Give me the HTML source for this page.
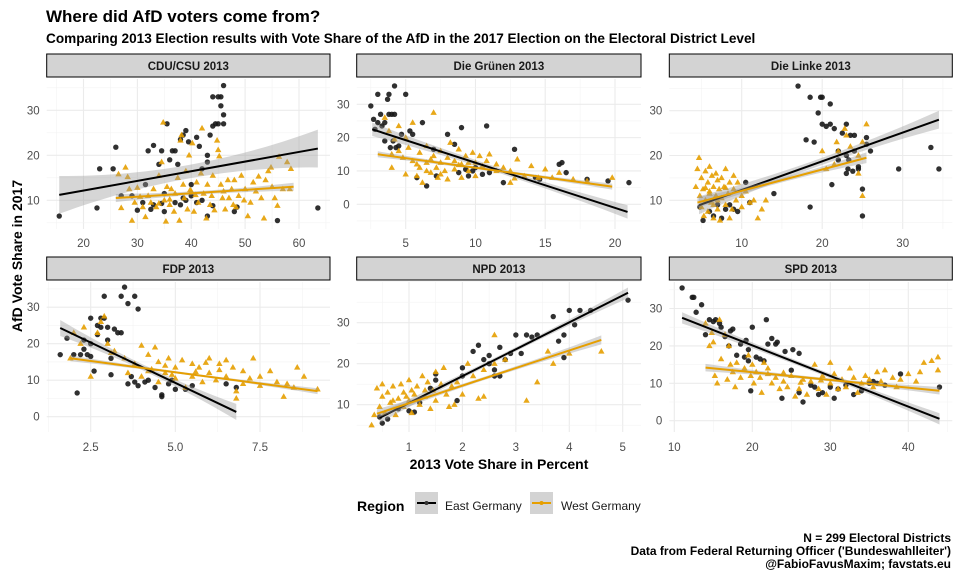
<!DOCTYPE html>
<html><head><meta charset="utf-8">
<style>
html,body{margin:0;padding:0;background:#fff;}
svg{display:block;font-family:"Liberation Sans",Arial,sans-serif;}
</style></head>
<body>
<svg id="chart" width="960" height="576" viewBox="0 0 960 576" xmlns="http://www.w3.org/2000/svg">
<rect width="960" height="576" fill="#fff"/>
<text x="46" y="22" font-size="17" font-weight="bold" fill="#000">Where did AfD voters come from?</text>
<text x="46" y="43" font-size="13.6" font-weight="bold" fill="#000">Comparing 2013 Election results with Vote Share of the AfD in the 2017 Election on the Electoral District Level</text>
<text transform="translate(22,256) rotate(-90)" text-anchor="middle" font-size="14" font-weight="bold" fill="#000">AfD Vote Share in 2017</text>
<text x="499" y="469" text-anchor="middle" font-size="14" font-weight="bold" fill="#000">2013 Vote Share in Percent</text>
<g>
<text x="357" y="511" font-size="14" font-weight="bold">Region</text>
<g>
<rect x="415" y="492" width="23" height="22" fill="#d3d3d3"/>
<line x1="417" y1="503" x2="436" y2="503" stroke="#000" stroke-width="2"/>
<circle cx="426.5" cy="503" r="2" fill="#333"/>
<text x="445" y="510" font-size="12" fill="#1a1a1a">East Germany</text>
</g>
<g>
<rect x="530" y="492" width="23" height="22" fill="#d3d3d3"/>
<line x1="532" y1="503" x2="551" y2="503" stroke="#E69F00" stroke-width="2"/>
<circle cx="541.5" cy="503" r="2" fill="#E69F00"/>
<text x="561" y="510" font-size="12" fill="#1a1a1a">West Germany</text>
</g>
</g>
<g font-size="12" font-weight="bold" text-anchor="end">
<text x="951" y="542">N = 299 Electoral Districts</text>
<text x="951" y="555">Data from Federal Returning Officer ('Bundeswahlleiter')</text>
<text x="951" y="568">@FabioFavusMaxim; favstats.eu</text>
</g>
<g id="panels"></g>
</svg>
<script>
// ---------- data ----------
const panelNames = ['CDU/CSU 2013','Die Grünen 2013','Die Linke 2013','FDP 2013','NPD 2013','SPD 2013'];
const xTicks = [[20,30,40,50,60],[5,10,15,20],[10,20,30],[2.5,5.0,7.5],[1,2,3,4,5],[10,20,30,40]];
const xTickLabels = [['20','30','40','50','60'],['5','10','15','20'],['10','20','30'],['2.5','5.0','7.5'],['1','2','3','4','5'],['10','20','30','40']];
const yTicks = [[10,20,30],[0,10,20,30],[10,20,30],[0,10,20,30],[10,20,30],[0,10,20,30]];
const eastPoints = [
"15.5,6.5 22.5,8.3 23,17 25.5,17 26,21.8 32,21 33,22.2 34,18 34.5,21 35.5,27 36,19 36.5,21 37,21 37.5,18 38,23.5 38.5,24.5 39,25.5 39.5,23 40,13.5 41,24 41.5,22 42,17 43,20 43,18.5 43.5,24.5 44,33 44,26.5 44.5,27 45,33 45,27 45.5,31 45.5,33 46,29 46,35.5 46,27 33,9 35,7.5 37,9.5 38,9 39,10 40,11 41,9.5 43,6.5 44,8.8 48,7.5 48.5,8.5 56,5.5 63.5,8.3 30,7.8 31,9.5 32.5,8 38.5,10.5 27,11 34.5,9.3 42,10 29,11 31.5,13.5 35,11.5",
"2.5,29.5 2.7,25.5 2.8,22.5 3,33 3,24.5 3.2,27 3.3,23.5 3.5,24.5 3.5,19 3.7,31.5 3.8,27 3.8,33 3.9,17 4,27 4.1,19 4.2,35.5 4.2,27 4.3,17 4.5,17.5 4.7,21 5,33 5.3,22 5.5,21 5.8,8 6.2,24.5 6.5,5.5 7,16.5 7.2,8.5 8,21 8.5,18 9,23 9.5,8.5 9.8,10 10,11 10.5,9 10.8,23.5 11,9.5 12,6.5 12.8,16.5 14.3,8 14.6,7.5 16,12 16.2,12.5 16.5,9.5 18,7.5 19.5,7 21,6.5 8.8,9.5 9.3,10.5",
"4.8,8.5 5.2,5.5 6,7.5 6.5,6.5 7,9 7.5,6 8,8 8.5,9 9,8 9.5,7.5 10.5,14 11,9.5 14,11.5 17,35.5 18,23.5 18.5,8.5 18.5,33 19,23 19.5,29.5 19.8,33 20,33 20,27 20.5,26.5 21,31.5 21,27 21.2,13.5 21.5,26 22,21 22,19 22.5,25 23,27 23,16 23,20 23.2,17 23.3,19 23.5,24.5 24,24.5 24,21 24.5,17 24.5,17.5 25,12.5 25,6.5 25.5,24 25.5,22.5 26,21 29.5,17 33.5,21.8 34.5,17 23.8,16.5",
"1.6,17 1.8,21.5 2,17 2.1,6.5 2.2,17 2.3,21 2.3,18.5 2.4,17 2.5,27 2.5,20 2.5,16.5 2.6,12.5 2.7,25 2.7,22.5 2.8,27 2.8,24.5 2.9,33 2.9,27 3,21 3,24.5 3.1,11.5 3.1,16 3.2,24 3.3,23 3.4,33 3.4,23 3.5,35.5 3.6,31 3.6,9 3.7,11 3.8,9.5 3.8,33 3.9,29.5 3.9,8.5 4.2,10 4.4,8 4.6,6 4.6,5.5 4.8,9 5,7.5 5.3,7.5 5.5,8.5 6.5,9 6.8,8 4.1,9.5 4.9,10",
"0.45,7 0.5,5.5 0.8,9 1,8.5 1.2,10.5 1.4,14 1.5,16 1.5,17.5 1.9,11 2,19 2,17 2.2,23 2.3,24.5 2.4,21 2.5,20 2.5,22 2.6,18.5 2.7,17 2.7,24 2.8,21 2.9,22.5 3,27 3.1,22.5 3.2,27 3.3,26.5 3.4,27 3.7,31.5 3.8,25.5 3.9,27 3.9,21.5 4,33 4.1,29.5 4.2,33 4.4,33 5.1,35.5 0.6,6.5 1.1,8.2 2.6,17",
"11,35.5 12.3,33 12.5,33 12.8,29 13.5,31 14,23 14.5,27 15,26.5 15.3,27 15.8,26 16,25 16.5,22.5 17,20 17.2,24 17.5,24.5 18,17.5 18.5,20.5 19,17 19.2,21.5 19.5,19 19.5,16 19.8,8 20,25 20.5,17 21,16.5 21.5,16 21.8,27 22,20.5 22.5,22 23,20.5 23.2,21 23.8,6 24.2,18.5 25.2,19 25,13.5 26,18 26.5,5 27.5,9.5 28,9 28.5,7 29,7.5 30,9 30.5,6 31,8.5 32,9.5 33,7 34,8 35,10 35.5,10.5 36,10 37,9.5 39,12.5 44,9 26,7.5"
];
const westPoints = [
"26.5,15.8 27,8.3 27.8,17.3 28.2,15.2 28.5,12.5 29,5.5 29.5,9.5 30,12.8 30.5,10.8 31,8.5 31.5,6.3 32,11 32.5,9.5 33,12.5 33.5,8.5 34,15.5 34.5,18.5 34.8,27.3 35,10 35.3,5.3 35.5,13 36,9 36.3,12.5 36.8,7.5 37,11.5 37.5,15 37.8,5.5 38,23.3 38.2,24.5 38.5,13.5 39,16.5 39.3,8 39.6,20 40,12 40.2,22.7 40.5,7.5 41,14 41.3,9.5 41.8,16 42,26 42.3,11.5 42.8,6 43,13.5 43.5,9 44,15.5 44.3,7.8 44.8,23.3 45,21.2 45.2,19.8 45.5,13.5 46,12 46.3,8 46.8,14.5 47,10.5 47.5,12.5 48,14.5 48.3,8.5 48.8,11 49.3,15.5 49.8,10 50,12.5 50.5,6.5 51,9.5 51.5,14 52,12 52.5,15.3 53,10.5 53.5,6 53.8,14.5 54.3,16.5 54.8,17.3 55,13 55.5,10.5 56,8.8 56.3,19.7 57,12.5 57.8,18.5 58.3,12.5 58.5,17 38.7,10.5 40.8,11.2 43.8,11 36,10.2 34,9.3 45.8,10.5 47.8,9 39.8,12.3",
"3.5,26 3.8,22 4,11 4.2,19.5 4.5,23.5 4.5,16 4.8,14 5,9 5,20 5.2,17 5.5,24.5 5.5,13 5.8,8.5 6,15.5 6,11 6.2,6.5 6.5,17.5 6.5,12.5 6.8,9.5 7,27.5 7,14.5 7.2,11 7.3,8 7.5,16 7.5,12.5 7.8,10 8,14 8,7.5 8.2,18.5 8.5,13 8.5,10.5 8.8,16.5 9,12 9,8 9.3,14.5 9.5,10 9.8,15.5 10,12.5 10,8.5 10.3,14.5 10.5,11.5 10.8,13 11,15 11.5,12 12,11 12.5,10 12.5,6.5 13,13.5 13.5,8.5 14,11.5 14.5,8 15,10.5 15.5,8 16,9.5 17,7.5 18,7 19.8,8 6.5,10 7.5,9 8.8,11.8 9.5,12.5 5.8,12 6.8,13.5 4,15 11.5,10 12.8,7.8",
"4.3,13 4.5,17 4.7,19.5 4.8,11 5,15 5,8.5 5.2,12.5 5.3,6.5 5.5,16.5 5.5,10 5.8,14 5.8,7.5 6,12 6,17.5 6.2,9.5 6.3,15.5 6.5,13 6.5,6 6.8,11 6.8,16 7,14.5 7,8 7.2,12.5 7.3,5.5 7.5,10.5 7.5,15 7.8,13 8,9 8,17 8.3,11.5 8.5,14 8.5,6 8.8,8 9,12.5 9,15.5 9.3,10 9.5,14 10,11 10,8.5 10.5,12 11,9.5 11.5,10 12,6 12.5,8 13,10 20,21 20.5,17 21.5,18 21.8,23 22,21 22.8,26 23,24.5 23.5,22 24.5,16 25,23 25,11 25.5,27 24.5,20 6,11.5 7,10 5.5,12.8 8,12.8 6.5,9",
"1.9,16 2,23 2.2,20 2.3,24.5 2.5,11 2.7,23 2.8,26 2.9,27.5 3,20 3.1,17.5 3.2,18 3.5,16 3.6,12 3.8,14.5 4,19.5 4,11 4.2,17 4.3,13 4.4,19 4.5,15 4.5,9.5 4.7,12 4.8,16 5,13.5 5,10.5 5.2,15.5 5.3,8 5.5,14.5 5.5,11 5.7,13.5 5.8,9.5 6,16 6,12 6.2,10 6.3,14.5 6.5,15.5 6.5,11 6.7,13.5 6.8,7 7,12.5 7,9 7.2,10.5 7.3,16 7.5,11 7.5,8.5 7.8,12.5 8,9.5 8.3,9 8.5,8 8.6,13.5 8.8,11 9.2,7.5 8.2,5.5 6.8,5 4.2,12.5 4.7,14 5.6,12.3 6.3,12.8 4.9,11.5 5.9,14.8",
"0.3,5 0.35,7.5 0.4,14 0.45,9.5 0.5,12 0.5,15 0.55,8 0.6,13 0.65,10.5 0.7,14.5 0.75,7.5 0.8,11.5 0.85,15 0.9,9.5 0.9,13 1,16 1,11 1.05,8 1.1,12.5 1.15,14.5 1.2,10 1.25,17 1.3,12 1.35,15.5 1.4,9 1.45,13.5 1.5,18 1.5,11 1.6,15 1.65,19 1.7,12.5 1.75,9.5 1.8,14.5 1.85,10 1.9,15.5 2,12.5 2.1,20 2.2,17 2.3,11.5 2.4,18.5 2.6,27 2.6,20 2.8,21 3.2,11 3.4,15.5 3.6,23 3.7,20 4,22.5 4.6,23 2.4,12 0.7,11 0.95,12 1.05,13.5 1.3,13.5",
"14,26 14.5,20 14.8,23.5 15,21 15.2,12 15.5,10 15.8,27 16,16.5 16.5,23 16.8,11 17,20 17.2,15 17.5,13 17.8,9 18,15.5 18.5,11.5 19,14 19.5,17.5 19.8,12 20,15 20.2,10 20.5,13 21,11.5 21.2,7.5 21.5,15.5 22,12.5 22.5,10 23,11.5 23.5,8.5 24,10.5 24.5,9 25,12 25.5,6.5 26,8.5 26.5,11 27,7 27.5,10.5 28,15 28.5,8.5 29,12 29.5,7 30,15.5 30,10 30.5,12.5 31,8.5 31.5,11 32,9 32.5,14 33,11.5 33.5,7.5 34,10 34.5,12 35,11 35.5,9 36,13 36.5,10.5 37,13.5 38,11.5 38.5,9 39,11 40,12.5 41,10.5 41.5,13 42,15.5 43,16 43.8,17 43.8,13.5 22,14 24,12.8 26.2,10.2 28.8,10.8"
];
// fitted lines: [x0, y0, x1, y1]
const eastFit = [[15.5,11.2,63.5,21.5],[2.6,22.5,20.9,-2.3],[4.7,8.9,34.5,28],[1.6,24.3,6.8,1.3],[0.45,6.8,5.1,37.3],[11,27.5,44,0.5]];
const westFit = [[26,10.5,59,13],[3,15,19.8,5.3],[4.5,9.5,25.5,19.5],[1.9,16,9.2,7],[0.4,7.8,4.6,25.8],[14,14.2,44,8]];
// confidence band half-widths: [at ends, at centre]
const eastBand = [[4.2,1.5],[2,0.8],[2,0.8],[2.2,0.8],[1.3,0.5],[1.5,0.6]];
const westBand = [[0.9,0.4],[0.9,0.4],[1.2,0.5],[0.8,0.3],[1.1,0.4],[1,0.4]];

// ---------- layout ----------
const layout = [
 {x0:46.7,x1:330,y0:79,y1:229,sy:54,xa:[20,83.5,60,299],ya:[10,200.3,30,110.3],xl:247},
 {x0:356.7,x1:641,y0:79,y1:229,sy:54,xa:[5,405.7,20,615],ya:[0,204.3,30,104.3],xl:247},
 {x0:669.3,x1:952.3,y0:79,y1:229,sy:54,xa:[10,741.7,30,902.7],ya:[10,200.3,30,110.7],xl:247},
 {x0:46.7,x1:330,y0:282,y1:432,sy:257,xa:[2.5,90.7,7.5,260],ya:[0,416.7,30,307.2],xl:451},
 {x0:356.7,x1:641,y0:282,y1:432,sy:257,xa:[1,409,5,622.7],ya:[10,404.7,30,322.7],xl:451},
 {x0:669.3,x1:952.3,y0:282,y1:432,sy:257,xa:[10,674.3,40,908.3],ya:[0,420.7,30,308.5],xl:451}
];
const NS='http://www.w3.org/2000/svg';
function mk(tag, attrs, parent){const e=document.createElementNS(NS,tag);for(const k in attrs)e.setAttribute(k,attrs[k]);parent.appendChild(e);return e;}
function lin(a){return v=>a[1]+(v-a[0])*(a[3]-a[1])/(a[2]-a[0]);}
function parsePts(s){return s.trim().split(/\s+/).map(p=>p.split(',').map(Number));}
const root=document.getElementById('panels');
panelNames.forEach((name,i)=>{
  const L=layout[i], X=lin(L.xa), Y=lin(L.ya);
  const g=mk('g',{},root);
  
  
  const clipId='clip'+i;
  const cp=mk('clipPath',{id:clipId},g);
  mk('rect',{x:L.x0,y:L.y0,width:L.x1-L.x0,height:L.y1-L.y0},cp);
  // grid
  const xt=xTicks[i], yt=yTicks[i];
  const xs=xt[1]-xt[0], ys=yt[1]-yt[0];
  const grid=mk('g',{},g);
  
  
  for(let v=xt[0]-xs*1.5; v<=xt[xt.length-1]+xs*1.5; v+=xs/2){
    const p=X(v); if(p<L.x0-0.5||p>L.x1+0.5) continue;
    const major=xt.some(t=>Math.abs(t-v)<1e-9);
    mk('line',{x1:p,x2:p,y1:L.y0,y2:L.y1,stroke:major?'#ebebeb':'#f3f3f3','stroke-width':major?1.1:0.6},grid);
  }
  for(let v=yt[0]-ys*1.5; v<=yt[yt.length-1]+ys*1.5; v+=ys/2){
    const p=Y(v); if(p<L.y0-0.5||p>L.y1+0.5) continue;
    const major=yt.some(t=>Math.abs(t-v)<1e-9);
    mk('line',{x1:L.x0,x2:L.x1,y1:p,y2:p,stroke:major?'#ebebeb':'#f3f3f3','stroke-width':major?1.1:0.6},grid);
  }
  // strip
  const st=mk('rect',{x:L.x0,y:L.sy,width:L.x1-L.x0,height:23,fill:'#d3d3d3',stroke:'#000','stroke-width':1},g);
  
  
  const stt=mk('text',{x:(L.x0+L.x1)/2,y:L.sy+16,'text-anchor':'middle','font-size':11.5,'font-weight':'bold',fill:'#1a1a1a'},g);
  
  
  stt.textContent=name;
  // tick labels
  xt.forEach((v,j)=>{
    const t=mk('text',{x:X(v),y:L.xl,'text-anchor':'middle','font-size':11.5,fill:'#4d4d4d'},g);
    
    
    t.textContent=xTickLabels[i][j];
  });
  yt.forEach(v=>{
    const t=mk('text',{x:L.x0-7,y:Y(v)+4,'text-anchor':'end','font-size':11.5,fill:'#4d4d4d'},g);
    
    
    t.textContent=String(v);
  });
  const data=mk('g',{'clip-path':'url(#'+clipId+')'},g);
  
  
  parsePts(eastPoints[i]).forEach(([a,b])=>{
    const c=mk('circle',{cx:X(a),cy:Y(b),r:2.7,fill:'#1a1a1a','fill-opacity':0.9},data);
    
    
  });
  parsePts(westPoints[i]).forEach(([a,b])=>{
    const px=X(a), py=Y(b);
    const t=mk('path',{d:`M${px},${py-3.4}L${px+3.2},${py+2.2}L${px-3.2},${py+2.2}Z`,fill:'#E69F00','fill-opacity':0.9},data);
    
    
  });
  [[eastFit[i],eastBand[i],'#000','east'],[westFit[i],westBand[i],'#E69F00','west']].forEach(([f,b,col,lab])=>{
    const N=30, up=[], lo=[];
    for(let k=0;k<=N;k++){
      const t=k/N, xv=f[0]+(f[2]-f[0])*t, yv=f[1]+(f[3]-f[1])*t;
      const w=b[1]+(b[0]-b[1])*Math.pow(2*t-1,2);
      up.push(X(xv)+','+Y(yv+w)); lo.push(X(xv)+','+Y(yv-w));
    }
    const rib=mk('polygon',{points:up.concat(lo.reverse()).join(' '),fill:'#999','fill-opacity':0.4},data);
    
    
    const ln=mk('line',{x1:X(f[0]),y1:Y(f[1]),x2:X(f[2]),y2:Y(f[3]),stroke:col,'stroke-width':2},data);
    
    
  });
});
</script>
</body></html>
